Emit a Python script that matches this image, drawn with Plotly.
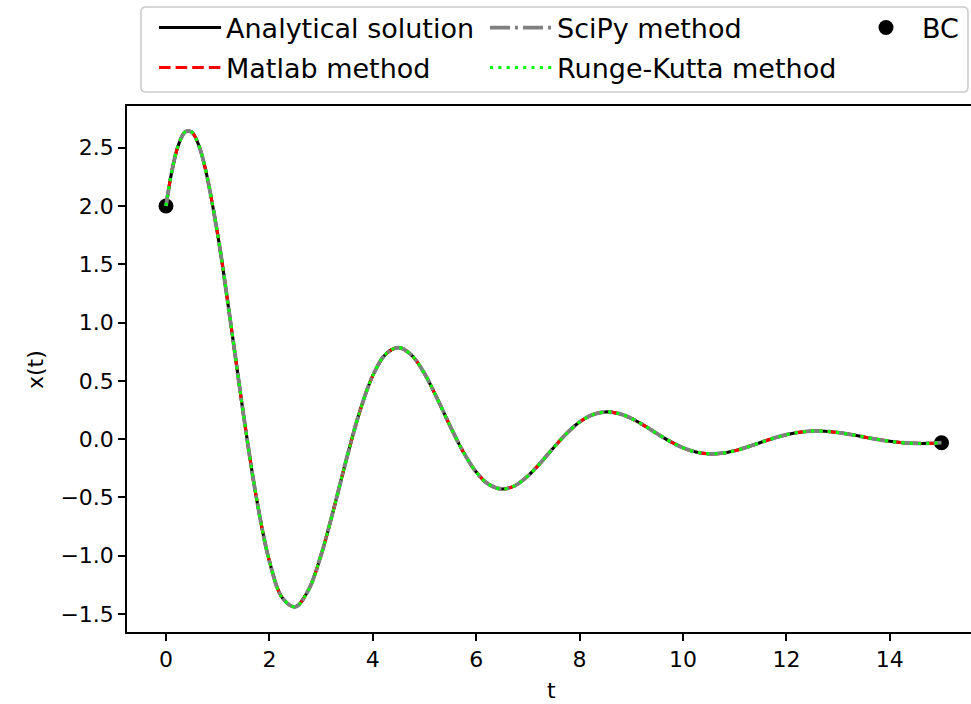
import plotly.graph_objects as go

# Sampled solution x(t) of the damped boundary-value problem
t_vals = [0.0, 0.125, 0.25, 0.375, 0.5, 0.625, 0.75, 1.0, 1.25, 1.5, 1.75, 2.0, 2.25, 2.5, 2.75,
          3.0, 3.25, 3.5, 3.75, 4.0, 4.25, 4.5, 4.75, 5.0, 5.25, 5.5, 5.75,
          6.0, 6.25, 6.5, 6.75, 7.0, 7.25, 7.5, 7.75, 8.0, 8.25, 8.5, 8.75,
          9.0, 9.25, 9.5, 9.75, 10.0, 10.25, 10.5, 10.75, 11.0, 11.25, 11.5, 11.75,
          12.0, 12.25, 12.5, 12.75, 13.0, 13.25, 13.5, 13.75, 14.0, 14.25, 14.5, 14.75, 15.0]
x_analytical = [2.000, 2.323, 2.535, 2.637, 2.633, 2.531, 2.341, 1.755, 1.000, 0.207, -0.506,
                -1.046, -1.362, -1.439, -1.300, -0.994, -0.589, -0.156, 0.239, 0.545, 0.730,
                0.785, 0.720, 0.562, 0.344, 0.108, -0.110, -0.283, -0.391, -0.428, -0.399,
                -0.316, -0.201, -0.072, 0.049, 0.146, 0.209, 0.233, 0.220, 0.178, 0.116,
                0.046, -0.020, -0.075, -0.111, -0.126, -0.121, -0.100, -0.067, -0.029, 0.008,
                0.038, 0.059, 0.069, 0.067, 0.056, 0.039, 0.018, -0.002, -0.019, -0.031,
                -0.037, -0.037, -0.031]
# The three numerical solvers agree with the analytical curve to plotting precision
x_matlab = list(x_analytical)
x_scipy = list(x_analytical)
x_rk = list(x_analytical)

# Boundary conditions
bc_t = [0.0, 15.0]
bc_x = [2.000, -0.031]

x_ticks = [0, 2, 4, 6, 8, 10, 12, 14]
y_ticks = [-1.5, -1.0, -0.5, 0.0, 0.5, 1.0, 1.5, 2.0, 2.5]

W, H = 971, 704
L, R, T, B = 127, 0, 106, 72
FONT = "DejaVu Sans"
LW = 3.1

fig = go.Figure()

# Boundary points sit underneath the solution curves
fig.add_trace(go.Scatter(x=bc_t, y=bc_x, mode="markers", name="BC",
                         marker=dict(color="black", size=15), legend="legend5"))
fig.add_trace(go.Scatter(x=t_vals, y=x_analytical, mode="lines", name="Analytical solution",
                         line=dict(color="black", width=LW, shape="spline"), legend="legend"))
fig.add_trace(go.Scatter(x=t_vals, y=x_matlab, mode="lines", name="Matlab method",
                         line=dict(color="#ff0000", width=LW, dash="11.6px,5px", shape="spline"),
                         legend="legend2"))
fig.add_trace(go.Scatter(x=t_vals, y=x_scipy, mode="lines", name="SciPy method",
                         line=dict(color="#808080", width=3.8, dash="20px,5px,3px,5px", shape="spline"),
                         legend="legend3"))
fig.add_trace(go.Scatter(x=t_vals, y=x_rk, mode="lines", name="Runge-Kutta method",
                         line=dict(color="#00ff00", width=LW, dash="3.1px,5.2px", shape="spline"),
                         legend="legend4"))


def px_x(p):
    return (p - L) / (W - L - R)


def px_y(p):
    return (H - B - p) / (H - T - B)


# Rounded legend frame
x0, x1, y0, y1, r = 141, 968, 7, 92, 5
pts = [
    f"M{px_x(x0 + r)},{px_y(y0)}", f"L{px_x(x1 - r)},{px_y(y0)}",
    f"Q{px_x(x1)},{px_y(y0)} {px_x(x1)},{px_y(y0 + r)}",
    f"L{px_x(x1)},{px_y(y1 - r)}",
    f"Q{px_x(x1)},{px_y(y1)} {px_x(x1 - r)},{px_y(y1)}",
    f"L{px_x(x0 + r)},{px_y(y1)}",
    f"Q{px_x(x0)},{px_y(y1)} {px_x(x0)},{px_y(y1 - r)}",
    f"L{px_x(x0)},{px_y(y0 + r)}",
    f"Q{px_x(x0)},{px_y(y0)} {px_x(x0 + r)},{px_y(y0)}", "Z",
]
fig.add_shape(type="path", path=" ".join(pts), xref="paper", yref="paper",
              line=dict(color="#cccccc", width=1.6), fillcolor="white")

# Axis titles
fig.add_annotation(text="t", x=px_x(551), y=px_y(690), xref="paper", yref="paper",
                   xanchor="center", yanchor="middle", showarrow=False,
                   font=dict(family=FONT, size=22, color="black"))
fig.add_annotation(text="x(t)", x=px_x(35), y=px_y(370), xref="paper", yref="paper",
                   xanchor="center", yanchor="middle", showarrow=False, textangle=-90,
                   font=dict(family=FONT, size=22, color="black"))


def legend_at(left, center_y):
    return dict(x=left / W, y=1 - center_y / H, xref="container", yref="container",
                xanchor="left", yanchor="middle", bgcolor="rgba(0,0,0,0)", borderwidth=0,
                font=dict(family=FONT, size=27, color="black"), itemwidth=62)


fig.update_layout(
    width=W, height=H,
    margin=dict(l=L, r=R, t=T, b=B, autoexpand=False),
    paper_bgcolor="white", plot_bgcolor="white",
    font=dict(family=FONT, size=22, color="black"),
    showlegend=True,
    legend=legend_at(154, 28),
    legend2=legend_at(154, 68),
    legend3=legend_at(485, 28),
    legend4=legend_at(485, 68),
    legend5=legend_at(850, 28),
    xaxis=dict(range=[-0.754, 15.57], tickvals=x_ticks, ticktext=[str(v) for v in x_ticks],
               showline=True, linecolor="black", linewidth=1.6, mirror=True,
               ticks="outside", ticklen=7, tickwidth=1.6, tickcolor="black",
               showgrid=False, zeroline=False),
    yaxis=dict(range=[-1.655, 2.858], tickvals=y_ticks, tickformat=".1f",
               showline=True, linecolor="black", linewidth=1.6, mirror=False,
               ticks="outside", ticklen=7, tickwidth=1.6, tickcolor="black",
               showgrid=False, zeroline=False),
)

fig.write_html("out.html")
